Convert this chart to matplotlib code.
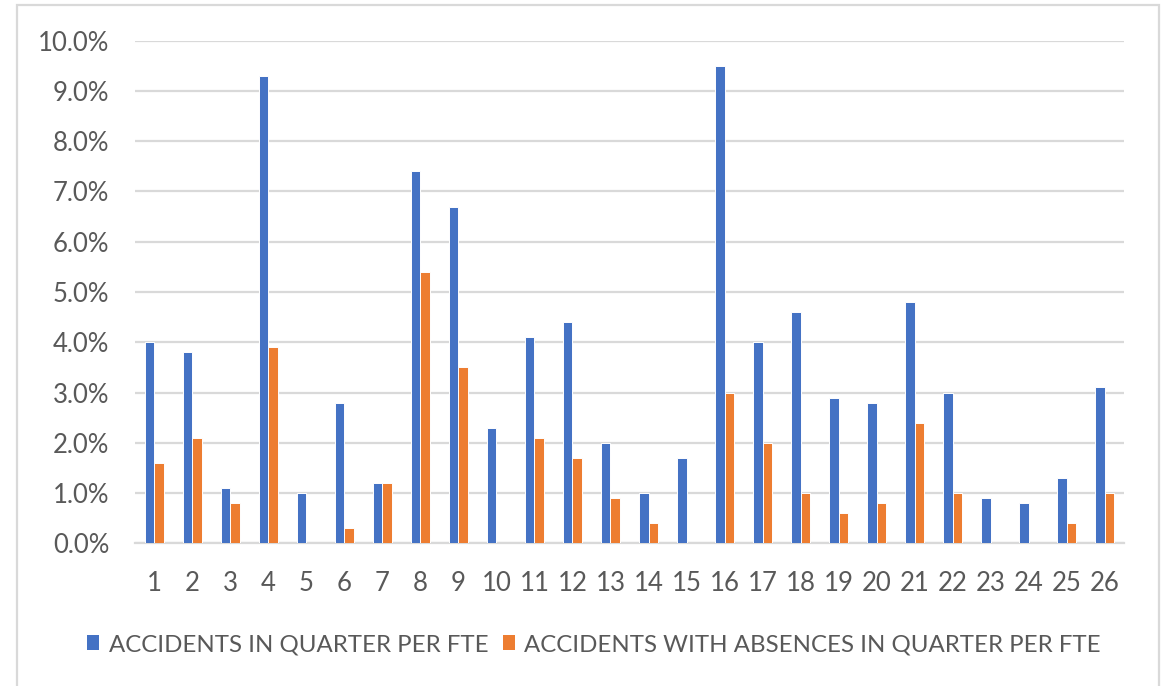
import matplotlib
matplotlib.use("Agg")
import matplotlib.pyplot as plt
from matplotlib.patches import Rectangle, Patch
from matplotlib.ticker import PercentFormatter
import numpy as np

categories = [str(i) for i in range(1, 27)]
accidents = [4.0, 3.8, 1.1, 9.3, 1.0, 2.8, 1.2, 7.4, 6.7, 2.3, 4.1, 4.4, 2.0,
             1.0, 1.7, 9.5, 4.0, 4.6, 2.9, 2.8, 4.8, 3.0, 0.9, 0.8, 1.3, 3.1]
absences = [1.6, 2.1, 0.8, 3.9, 0.0, 0.3, 1.2, 5.4, 3.5, 0.0, 2.1, 1.7, 0.9,
            0.4, 0.0, 3.0, 2.0, 1.0, 0.6, 0.8, 2.4, 1.0, 0.0, 0.0, 0.4, 1.0]
series_names = ["ACCIDENTS IN QUARTER PER FTE",
                "ACCIDENTS WITH ABSENCES IN QUARTER PER FTE"]
blue = "#4472C4"
orange = "#ED7D31"
text_col = "#595959"
grid_col = "#D9D9D9"

plt.rcParams['font.family'] = ['Lato', 'DejaVu Sans']

W, H = 1169, 686
fig = plt.figure(figsize=(W / 100, H / 100), dpi=100)
fig.patch.set_facecolor("white")

# outer chart border
fig.patches.append(Rectangle((17 / W, -0.02), (1159 - 17) / W, 1.02 - 5 / H,
                             transform=fig.transFigure, fill=False,
                             edgecolor=grid_col, linewidth=1.6, zorder=0))

left, right = 135 / W, 1124 / W
top, bottom = 1 - 40.7 / H, 1 - 543.3 / H
ax = fig.add_axes([left, bottom, right - left, top - bottom])

x = np.arange(len(categories))
bw = 0.25
ax.bar(x - bw / 2, accidents, width=bw, color=blue, edgecolor="white",
       linewidth=0.7, zorder=3, label=series_names[0])
ax.bar(x + bw / 2, absences, width=bw, color=orange, edgecolor="white",
       linewidth=0.7, zorder=3, label=series_names[1])

ax.set_xlim(-0.5, len(categories) - 0.5)
ax.set_ylim(0, 10)
ax.set_yticks(np.arange(0, 10.01, 1))
ax.yaxis.set_major_formatter(PercentFormatter(decimals=1))
ax.set_xticks(x)
ax.set_xticklabels(categories)

ax.grid(axis="y", color=grid_col, linewidth=1.6, zorder=0)
ax.set_axisbelow(True)
for s in ["top", "right", "left"]:
    ax.spines[s].set_visible(False)
ax.spines["bottom"].set_color(grid_col)
ax.spines["bottom"].set_linewidth(1.6)

ax.tick_params(axis="both", length=0, labelsize=18.5, labelcolor=text_col)
ax.tick_params(axis="y", pad=18.5)
ax.tick_params(axis="x", pad=20)

handles = [Patch(facecolor=blue, edgecolor="none"),
           Patch(facecolor=orange, edgecolor="none")]
leg = fig.legend(handles, series_names, loc="center",
                 bbox_to_anchor=(0.508, 0.06), ncol=2, frameon=False,
                 fontsize=17.3, handlelength=0.5, handleheight=0.6,
                 handletextpad=0.38, columnspacing=0.6, labelcolor=text_col)

fig.savefig("out.png", dpi=100, facecolor="white")
